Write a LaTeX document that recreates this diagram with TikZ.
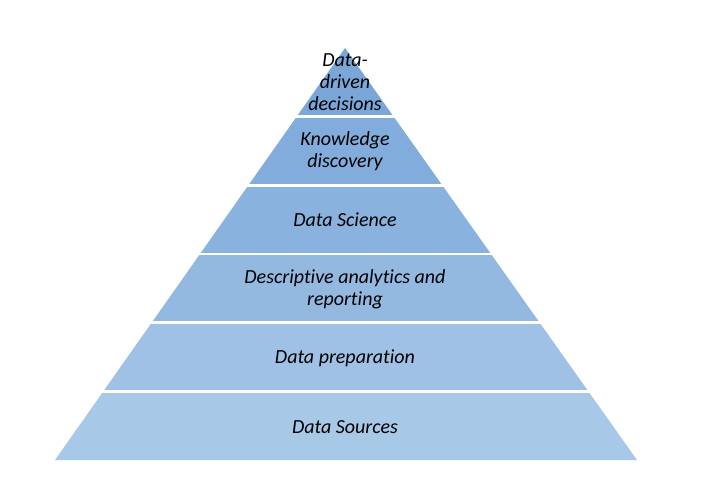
\documentclass[tikz,border=0pt]{standalone}
\usepackage{fontspec}
\setmainfont{Carlito}[Ligatures=NoCommon]
\usetikzlibrary{calc}
\definecolor{layerA}{HTML}{7BA6D8}
\definecolor{layerB}{HTML}{82ACDB}
\definecolor{layerC}{HTML}{8AB2DE}
\definecolor{layerD}{HTML}{94B9E1}
\definecolor{layerE}{HTML}{9EC1E5}
\definecolor{layerF}{HTML}{A8C8E8}
\tikzset{
  label/.style={align=center, font=\itshape\fontsize{15}{16.5}\selectfont, text=black, inner sep=1pt},
  gap/.style={draw=white, line width=2.2pt}
}
\begin{document}
\begin{tikzpicture}[x=0.75pt, y=-0.75pt]
\useasboundingbox (0,0) rectangle (701,480);
\coordinate (apex) at (345,48);
\coordinate (bl) at (55,460);
\coordinate (br) at (637,460);
% bands, top to bottom
\foreach \col [count=\k from 0] in {layerA,layerB,layerC,layerD,layerE,layerF} {
  \pgfmathsetmacro{\ta}{\k/6}
  \pgfmathsetmacro{\tb}{(\k+1)/6}
  \fill[\col] ($(apex)!\ta!(bl)$) -- ($(apex)!\tb!(bl)$) -- ($(apex)!\tb!(br)$) -- ($(apex)!\ta!(br)$) -- cycle;
}
% white gaps between bands
\foreach \k in {1,...,5} {
  \draw[gap] ($(apex)!\k/6!(bl)+(-3,0)$) -- ($(apex)!\k/6!(br)+(3,0)$);
}
\node[label] (decisions) at (345,82) {Data-\\driven\\decisions};
\node[label] (knowledge) at (345,151) {Knowledge\\discovery};
\node[label] (science) at (345,220) {Data Science};
\node[label] (analytics) at (345,289) {Descriptive analytics and\\reporting};
\node[label] (preparation) at (345,358) {Data preparation};
\node[label] (sources) at (345,427) {Data Sources};
\end{tikzpicture}
\end{document}
